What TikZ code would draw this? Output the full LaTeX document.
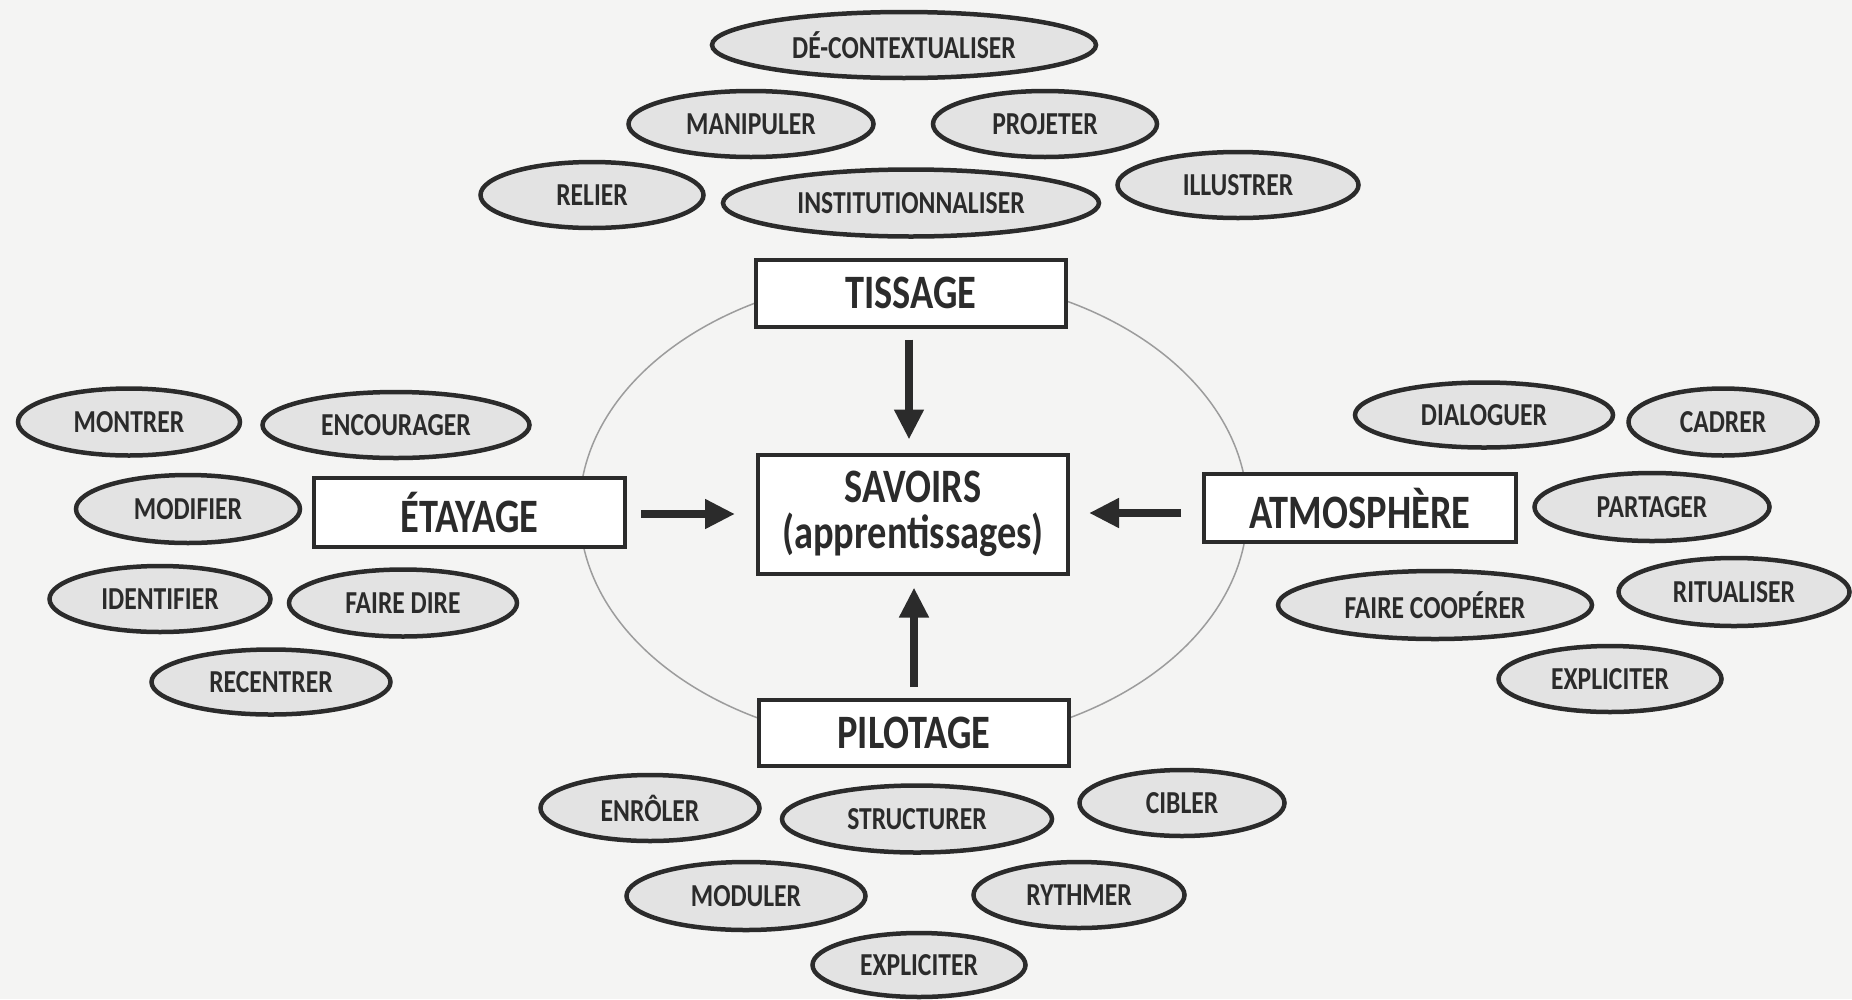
\documentclass[tikz,border=0pt]{standalone}
\usepackage{fontspec}
\setmainfont{Carlito}[FakeStretch=0.8]
\usetikzlibrary{shapes.geometric,arrows.meta}
\definecolor{bg}{HTML}{F4F4F3}
\definecolor{efill}{HTML}{E3E3E3}
\definecolor{ink}{HTML}{2B2B2B}
\definecolor{ringc}{HTML}{9C9C9C}
\begin{document}
\begin{tikzpicture}[x=1pt,y=-1pt,
  ov/.style={ellipse, draw=ink, line width=4.5pt, fill=efill, inner sep=0pt,
    font=\fontsize{32}{36}\selectfont\bfseries, text=ink},
  bx/.style={rectangle, draw=ink, line width=4pt, fill=white, inner sep=0pt,
    font=\fontsize{48}{46}\selectfont\bfseries, text=ink, align=center},
  arr/.style={line width=8pt, draw=ink, -{Triangle[length=30pt,width=28pt]}}]
\fill[bg] (0,0) rectangle (1852,999);
\useasboundingbox (0,0) rectangle (1852,999);
% central ring
\draw[ringc, line width=1.5pt] (913.5,510) ellipse [x radius=334pt, y radius=235pt];
% boxes
\node[bx, minimum width=310pt, minimum height=67pt] (tis) at (911,293) {TISSAGE};
\node[bx, minimum width=310pt, minimum height=119pt] (sav) at (913,514) {SAVOIRS\\(apprentissages)};
\node[bx, minimum width=311pt, minimum height=69pt] (eta) at (469.5,512.5) {ÉTAYAGE};
\node[bx, minimum width=312pt, minimum height=68pt] (atm) at (1360,508) {ATMOSPHÈRE};
\node[bx, minimum width=310pt, minimum height=66pt] (pil) at (914,733) {PILOTAGE};
% arrows
\draw[arr, shorten <=11pt, shorten >=13pt] (tis.south -| 909,0) -- (sav.north -| 909,0);
\draw[arr, shorten <=14pt, shorten >=21pt] (eta.east |- 0,514) -- (sav.west |- 0,514);
\draw[arr, shorten <=21pt, shorten >=19pt] (atm.west |- 0,513) -- (sav.east |- 0,513);
\draw[arr, shorten <=11pt, shorten >=12pt] (pil.north -| 914,0) -- (sav.south -| 914,0);
% top ellipses
\node[ov, minimum width=384pt, minimum height=66pt] (dec) at (904,45) {DÉ-CONTEXTUALISER};
\node[ov, minimum width=245pt, minimum height=66pt] (man) at (751,124) {MANIPULER};
\node[ov, minimum width=224pt, minimum height=66pt] (pro) at (1045,124) {PROJETER};
\node[ov, minimum width=223pt, minimum height=66pt] (rel) at (592,195) {RELIER};
\node[ov, minimum width=376pt, minimum height=67pt] (ins) at (911,203) {INSTITUTIONNALISER};
\node[ov, minimum width=241pt, minimum height=66pt] (ill) at (1238,185) {ILLUSTRER};
% left ellipses
\node[ov, minimum width=222pt, minimum height=67pt] (mon) at (129,422) {MONTRER};
\node[ov, minimum width=267pt, minimum height=66pt] (enc) at (396,425) {ENCOURAGER};
\node[ov, minimum width=224pt, minimum height=68pt] (mod) at (188,509) {MODIFIER};
\node[ov, minimum width=221pt, minimum height=66pt] (ide) at (160,599) {IDENTIFIER};
\node[ov, minimum width=228pt, minimum height=67pt] (fdi) at (403,603) {FAIRE DIRE};
\node[ov, minimum width=239pt, minimum height=65pt] (rec) at (271,682) {RECENTRER};
% right ellipses
\node[ov, minimum width=258pt, minimum height=65pt] (dia) at (1484,415) {DIALOGUER};
\node[ov, minimum width=189pt, minimum height=67pt] (cad) at (1723,422) {CADRER};
\node[ov, minimum width=235pt, minimum height=68pt] (par) at (1652,507) {PARTAGER};
\node[ov, minimum width=314pt, minimum height=68pt] (fco) at (1435,605) {FAIRE COOPÉRER};
\node[ov, minimum width=231pt, minimum height=68pt] (rit) at (1734,592) {RITUALISER};
\node[ov, minimum width=223pt, minimum height=66pt] (exr) at (1610,679) {EXPLICITER};
% bottom ellipses
\node[ov, minimum width=219pt, minimum height=66pt] (enr) at (650,808) {ENRÔLER};
\node[ov, minimum width=270pt, minimum height=67pt] (str) at (917,819) {STRUCTURER};
\node[ov, minimum width=205pt, minimum height=66pt] (cib) at (1182,803) {CIBLER};
\node[ov, minimum width=239pt, minimum height=68pt] (mdl) at (746,896) {MODULER};
\node[ov, minimum width=211pt, minimum height=66pt] (ryt) at (1079,895) {RYTHMER};
\node[ov, minimum width=213pt, minimum height=64pt] (exb) at (919,965) {EXPLICITER};
\end{tikzpicture}
\end{document}
